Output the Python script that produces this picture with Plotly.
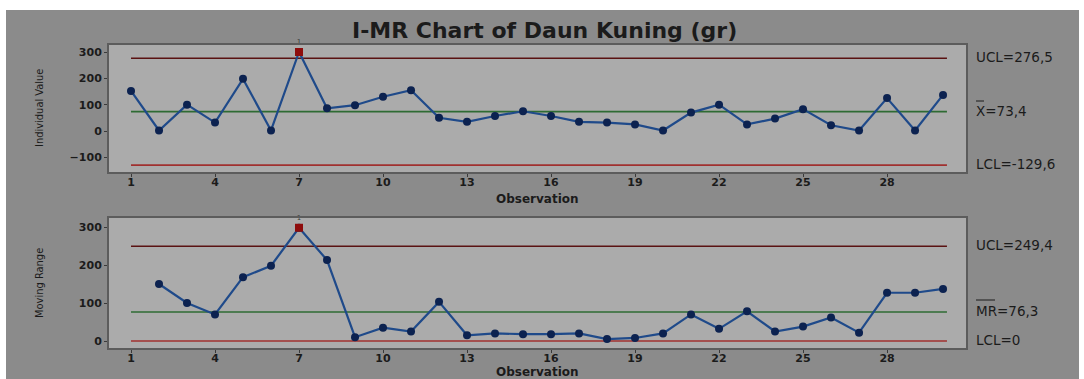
import plotly.graph_objects as go

# Observation numbers and measured weights of yellow leaves (gr)
observation = list(range(1, 31))
individual = [152, 2, 100, 32, 198, 2, 300, 86, 98, 130,
              155, 50, 35, 57, 75, 57, 35, 32, 25, 2,
              70, 100, 25, 47, 83, 22, 2, 125, 2, 137]

# Moving ranges (first observation has none)
mr_observation = list(range(2, 31))
moving_range = [150, 100, 70, 168, 198, 298, 213, 10, 35, 25,
                103, 15, 20, 18, 18, 20, 5, 8, 20, 70,
                32, 78, 25, 38, 62, 22, 127, 127, 137]

# Control limits
i_ucl, i_center, i_lcl = 276.5, 73.4, -129.6
mr_ucl, mr_center, mr_lcl = 249.4, 76.3, 0.0

# Points flagged by test 1
flag_obs = [7]
i_flag = [300]
mr_flag = [298]

x_ticks = [1, 4, 7, 10, 13, 16, 19, 22, 25, 28]
i_ticks = [-100, 0, 100, 200, 300]
mr_ticks = [0, 100, 200, 300]

W, H = 1084, 379
FONT = "DejaVu Sans, Noto Sans, sans-serif"
OUTER_BG = "#8b8b8b"
PLOT_BG = "#ababab"
UCL_COLOR = "#5a1212"
LCL_COLOR = "#a0302f"
CL_COLOR = "#2e6b33"
LINE_BLUE = "#1f4a8a"
MARKER_NAVY = "#0c2250"
FLAG_RED = "#8e0c0c"


def px_x(p):
    return p / W


def px_y(p):
    return 1 - p / H


line_ends = [1, 30.14]

fig = go.Figure()


def add_chart(ax, ay, xs, ys, ucl, cl, lcl, fy):
    for val, col in ((ucl, UCL_COLOR), (lcl, LCL_COLOR), (cl, CL_COLOR)):
        fig.add_trace(go.Scatter(x=line_ends, y=[val, val], mode="lines",
                                 line=dict(color=col, width=1.6),
                                 xaxis=ax, yaxis=ay, showlegend=False,
                                 hoverinfo="skip"))
    fig.add_trace(go.Scatter(x=xs, y=ys, mode="lines+markers",
                             line=dict(color=LINE_BLUE, width=2.2),
                             marker=dict(color=MARKER_NAVY, size=8,
                                         symbol="circle"),
                             xaxis=ax, yaxis=ay, showlegend=False))
    fig.add_trace(go.Scatter(x=flag_obs, y=fy, mode="markers+text",
                             marker=dict(color=FLAG_RED, size=8,
                                         symbol="square"),
                             text=["1"], textposition="top center",
                             textfont=dict(size=7, color="#3a3a3a",
                                           family=FONT),
                             xaxis=ax, yaxis=ay, showlegend=False,
                             cliponaxis=False))


add_chart("x", "y", observation, individual, i_ucl, i_center, i_lcl, i_flag)
add_chart("x2", "y2", mr_observation, moving_range, mr_ucl, mr_center,
          mr_lcl, mr_flag)

tickfont = dict(family=FONT, size=11, color="#1b1b1b", weight="bold")
axis_common = dict(showgrid=False, zeroline=False, showline=True,
                   mirror=True, linecolor="#5c5c5c", linewidth=2,
                   ticks="outside", ticklen=3, tickwidth=1,
                   tickcolor="#3a3a3a", tickfont=tickfont, fixedrange=True)

x_dom = [px_x(109), px_x(966)]
x_range = [0.214, 30.82]

fig.update_layout(
    width=W, height=H,
    margin=dict(l=0, r=0, t=0, b=0),
    paper_bgcolor=OUTER_BG,
    plot_bgcolor=PLOT_BG,
    font=dict(family=FONT, color="#1b1b1b"),
    xaxis=dict(domain=x_dom, range=x_range, tickvals=x_ticks,
               anchor="y", ticklabelstandoff=-4, **axis_common),
    yaxis=dict(domain=[px_y(172), px_y(45)], range=[-155.7, 326.6],
               tickvals=i_ticks, anchor="x", **axis_common),
    xaxis2=dict(domain=x_dom, range=x_range, tickvals=x_ticks,
                anchor="y2", ticklabelstandoff=-4, **axis_common),
    yaxis2=dict(domain=[px_y(348), px_y(218)], range=[-18.4, 323.7],
                tickvals=mr_ticks, anchor="x2", **axis_common),
)

# white margins around the grey panel
for x0, x1, y0, y1 in ((0, W, 0, 10), (0, 6, 0, H), (1079, W, 0, H)):
    fig.add_shape(type="rect", xref="paper", yref="paper",
                  x0=px_x(x0), x1=px_x(x1), y0=px_y(y1), y1=px_y(y0),
                  fillcolor="white", line=dict(width=0), layer="below")

annotations = []
annotations.append(dict(text="I-MR Chart of Daun Kuning (gr)",
                        x=px_x(544), y=px_y(30), xref="paper", yref="paper",
                        showarrow=False, xanchor="center", yanchor="middle",
                        font=dict(family=FONT, size=22, color="#1b1b1b",
                                  weight="bold")))

for label, yc in (("Observation", 199), ("Observation", 372)):
    annotations.append(dict(text=label, x=px_x(537), y=px_y(yc),
                            xref="paper", yref="paper", showarrow=False,
                            xanchor="center", yanchor="middle",
                            font=dict(family=FONT, size=12, color="#1b1b1b",
                                      weight="bold")))

narrow = "Liberation Sans Narrow, DejaVu Sans Condensed, Liberation Sans, sans-serif"
for label, yc in (("Individual Value", 108), ("Moving Range", 283)):
    annotations.append(dict(text=label, x=px_x(39), y=px_y(yc),
                            xref="paper", yref="paper", showarrow=False,
                            xanchor="center", yanchor="middle", textangle=-90,
                            font=dict(family=narrow, size=11,
                                      color="#1b1b1b")))

label_font = dict(family=FONT, size=13.5, color="#1b1b1b")
for text, val, yref in (("UCL=276,5", i_ucl, "y"), ("X=73,4", i_center, "y"),
                        ("LCL=-129,6", i_lcl, "y"),
                        ("UCL=249,4", mr_ucl, "y2"), ("MR=76,3", mr_center, "y2"),
                        ("LCL=0", mr_lcl, "y2")):
    annotations.append(dict(text=text, x=px_x(974), y=val, xref="paper",
                            yref=yref, showarrow=False, xanchor="left",
                            yanchor="middle", yshift=1, font=label_font))

fig.update_layout(annotations=annotations)

# bars over X and MR in the centre-line labels
fig.add_shape(type="line", xref="paper", yref="paper",
              x0=px_x(976), x1=px_x(984), y0=px_y(101), y1=px_y(101),
              line=dict(color="#1b1b1b", width=1))
fig.add_shape(type="line", xref="paper", yref="paper",
              x0=px_x(976), x1=px_x(995), y0=px_y(300), y1=px_y(300),
              line=dict(color="#1b1b1b", width=1))

fig.write_html("out.html")
